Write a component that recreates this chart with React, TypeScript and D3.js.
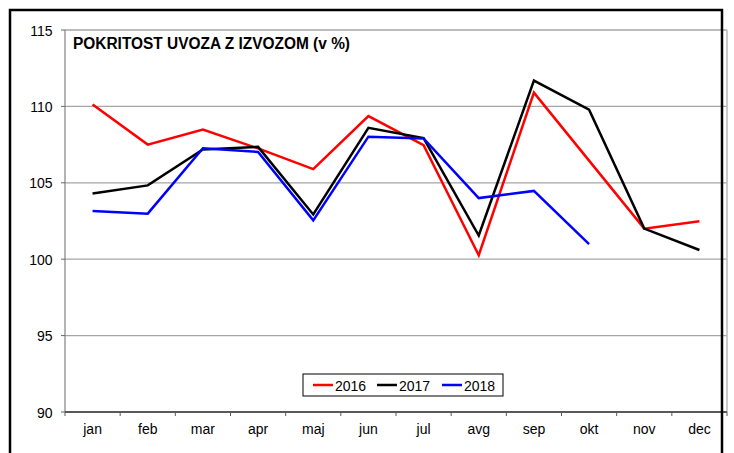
import * as d3 from 'd3'

const months = ['jan', 'feb', 'mar', 'apr', 'maj', 'jun', 'jul', 'avg', 'sep', 'okt', 'nov', 'dec']
const yTicks = [90, 95, 100, 105, 110, 115]
const s2016 = [110.13, 107.5, 108.48, 107.25, 105.9, 109.37, 107.46, 100.26, 110.9, 106.45, 102.0, 102.48]
const s2017 = [104.3, 104.83, 107.18, 107.35, 102.93, 108.6, 107.93, 101.55, 111.69, 109.78, 102.0, 100.6]
const s2018 = [103.15, 102.98, 107.26, 107.02, 102.54, 108.02, 107.9, 104.0, 104.47, 100.98]
const seriesNames = ['2016', '2017', '2018']
const colors = ['#ff0000', '#000000', '#0000ff']
const title = 'POKRITOST UVOZA Z IZVOZOM (v %)'

export default function App() {
  const width = 734
  const height = 453
  const left = 65, right = 727, top = 30, bottom = 412

  const x = d3.scaleBand().domain(months).range([left, right])
  const y = d3.scaleLinear().domain([90, 115]).range([bottom, top])

  const line = d3.line<number>()
    .x((d, i) => x(months[i])! + x.bandwidth() / 2)
    .y(d => y(d))

  const allSeries = [s2016, s2017, s2018]
  const font = '"Liberation Sans", Arial, sans-serif'

  // legend
  const legX = 303, legY = 374, legW = 200, legH = 22
  const legItems = [10, 74, 139]

  return (
    <svg width={width} height={height} style={{ position: 'absolute', left: 0, top: 0, background: '#fff' }} fontFamily={font}>
      {/* gridlines */}
      {yTicks.map(t => (
        <line key={t} x1={left} x2={right} y1={y(t)} y2={y(t)} stroke="#a6a6a6" strokeWidth={1.3} />
      ))}
      <line x1={right} x2={right} y1={top} y2={bottom} stroke="#b8b8b8" strokeWidth={1.5} />
      <line x1={left} x2={left} y1={top} y2={bottom} stroke="#8c8c8c" strokeWidth={1.3} />
      {/* y ticks */}
      {yTicks.map(t => (
        <g key={'yt' + t}>
          <line x1={left - 4} x2={left} y1={y(t)} y2={y(t)} stroke="#666" />
          <text x={52.5} y={y(t) + 5.5} textAnchor="end" fontSize={14} fill="#000">{t}</text>
        </g>
      ))}
      {/* x axis */}
      <line x1={left} x2={right} y1={bottom} y2={bottom} stroke="#595959" strokeWidth={2} />
      {months.concat(['']).map((m, i) => {
        const xx = left + i * x.step()
        return <line key={'xt' + i} x1={xx} x2={xx} y1={bottom} y2={bottom + 4} stroke="#595959" />
      })}
      {months.map(m => (
        <text key={m} x={x(m)! + x.bandwidth() / 2} y={434} textAnchor="middle" fontSize={14} fill="#000">{m}</text>
      ))}
      {/* series */}
      {allSeries.map((s, i) => (
        <path key={i} d={line(s)!} fill="none" stroke={colors[i]} strokeWidth={2.5} strokeLinejoin="miter" />
      ))}
      {/* title */}
      <text x={73} y={48.5} fontSize={16} fontWeight="bold" fill="#000" textLength={277} lengthAdjust="spacingAndGlyphs">{title}</text>
      {/* legend */}
      <rect x={legX} y={legY} width={legW} height={legH} fill="#fff" stroke="#000" strokeWidth={1} />
      {seriesNames.map((n, i) => (
        <g key={n}>
          <line x1={legX + legItems[i]} x2={legX + legItems[i] + 20} y1={legY + 11} y2={legY + 11} stroke={colors[i]} strokeWidth={2.5} />
          <text x={legX + legItems[i] + 22} y={legY + 17} fontSize={14} fill="#000">{n}</text>
        </g>
      ))}
      {/* outer frame */}
      <path d={`M10,${height + 5} L10,10 L722,10 L722,${height + 5}`} fill="none" stroke="#000" strokeWidth={2.5} />
    </svg>
  )
}
